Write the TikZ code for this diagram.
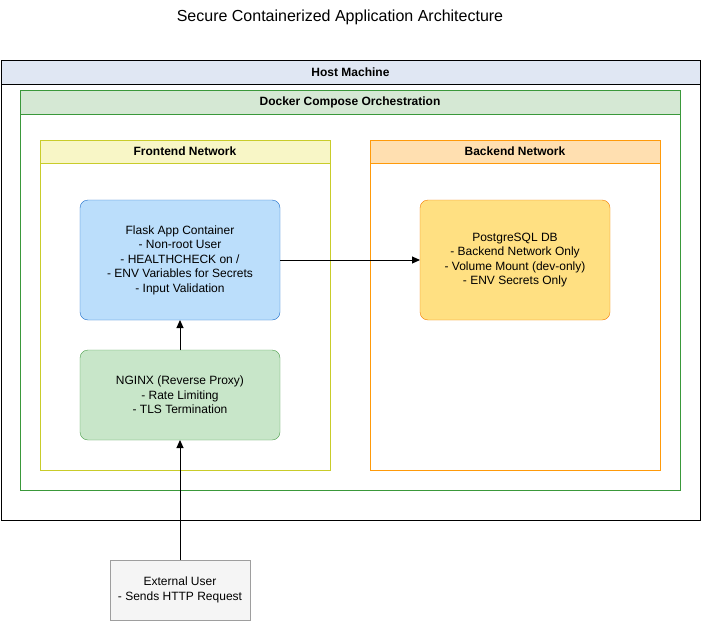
\documentclass[tikz,border=0pt]{standalone}
\usepackage{fontspec}
\setmainfont{Liberation Sans}
\usetikzlibrary{positioning,arrows.meta}

\definecolor{hostfill}{HTML}{E0E7F3}
\definecolor{dockerfill}{HTML}{D5E8D4}
\definecolor{dockerline}{HTML}{3A983A}
\definecolor{frontfill}{HTML}{F8F6C6}
\definecolor{frontline}{HTML}{C9CC2A}
\definecolor{backfill}{HTML}{FFDFB0}
\definecolor{backline}{HTML}{FF9A0A}
\definecolor{flaskfill}{HTML}{BBDEFB}
\definecolor{flaskline}{HTML}{1E6FCC}
\definecolor{dbfill}{HTML}{FFE082}
\definecolor{dbline}{HTML}{F57C00}
\definecolor{nginxfill}{HTML}{C8E6C9}
\definecolor{nginxline}{HTML}{4CA04C}
\definecolor{userfill}{HTML}{F5F5F5}
\definecolor{userline}{HTML}{9E9E9E}

\begin{document}
\begin{tikzpicture}
  [x=1pt,y=-1pt,
   zone/.style={draw,rectangle,anchor=north west,inner sep=0pt,outer sep=0pt},
   head/.style={zone,font=\fontsize{12}{14}\selectfont\bfseries},
   card/.style={draw,rectangle,rounded corners=8pt,align=center,
     inner sep=0pt,outer sep=0pt,font=\fontsize{12}{14.5}\selectfont},
   link/.style={-{Triangle[length=8pt,width=7pt]},line width=1pt},
   node distance=30pt]

  \useasboundingbox (0,0) rectangle (701,621);

  \node[font=\fontsize{16}{19}\selectfont] (title) at (340,17)
    {Secure Containerized Application Architecture};

  % host and compose
  \node[zone,fill=white,minimum width=699pt,minimum height=460pt] (host) at (1,60) {};
  \node[head,fill=hostfill,minimum width=699pt,minimum height=24pt] (hosthead)
    at (host.north west) {Host Machine};

  \node[zone,draw=dockerline,minimum width=660pt,minimum height=400pt] (compose) at (20,90) {};
  \node[head,draw=dockerline,fill=dockerfill,minimum width=660pt,minimum height=24pt]
    (composehead) at (compose.north west) {Docker Compose Orchestration};

  % networks
  \node[zone,draw=frontline,minimum width=290pt,minimum height=330pt] (front) at (40,140) {};
  \node[head,draw=frontline,fill=frontfill,minimum width=290pt,minimum height=23pt]
    (fronthead) at (front.north west) {Frontend Network};

  \node[zone,draw=backline,minimum width=290pt,minimum height=330pt] (back) at (370,140) {};
  \node[head,draw=backline,fill=backfill,minimum width=290pt,minimum height=23pt]
    (backhead) at (back.north west) {Backend Network};

  % containers
  \node[card,draw=flaskline,fill=flaskfill,minimum width=200pt,minimum height=120pt]
    (flask) at (180,260)
    {Flask App Container\\- Non-root User\\- HEALTHCHECK on /\\- ENV Variables for Secrets\\- Input Validation};

  \node[card,draw=nginxline,fill=nginxfill,minimum width=200pt,minimum height=90pt]
    (nginx) [below=of flask]
    {NGINX (Reverse Proxy)\\- Rate Limiting\\- TLS Termination};

  \node[card,draw=dbline,fill=dbfill,minimum width=190pt,minimum height=120pt]
    (db) [right=140pt of flask]
    {PostgreSQL DB\\- Backend Network Only\\- Volume Mount (dev-only)\\- ENV Secrets Only};

  \node[card,rounded corners=0pt,draw=userline,fill=userfill,minimum width=140pt,minimum height=60pt]
    (user) [below=120pt of nginx]
    {External User\\- Sends HTTP Request};

  \draw[link] (user) -- (nginx);
  \draw[link] (nginx) -- (flask);
  \draw[link] (flask) -- (db);

\end{tikzpicture}
\end{document}
